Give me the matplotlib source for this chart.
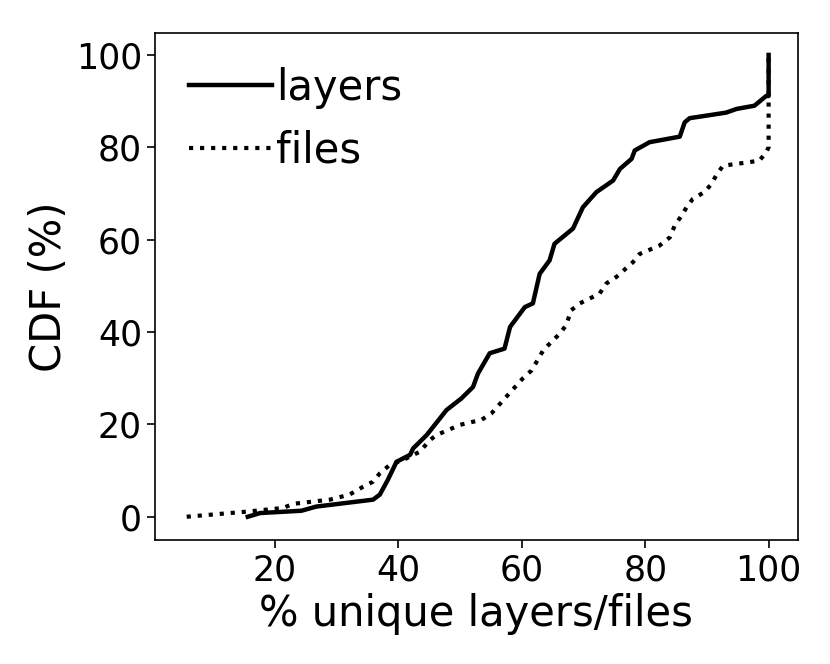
import matplotlib
matplotlib.use("Agg")
import matplotlib.pyplot as plt

layers_x = [15.6, 17.6, 24.3, 26.7, 35.9, 37.0, 38.3, 39.7, 41.9, 42.4, 44.6, 47.8, 50.2, 52.1,
            52.9, 54.8, 57.2, 58.1, 60.5, 61.8, 62.9, 64.5, 65.3, 68.3, 69.9, 72.1, 74.8, 75.9,
            77.8, 78.3, 80.7, 85.6, 86.4, 87.2, 93.1, 94.8, 97.7, 99.6, 100.0, 100.0]
layers_y = [0, 0.8, 1.3, 2.2, 3.7, 4.8, 8.0, 11.9, 13.4, 14.8, 17.7, 23.1, 25.6, 28.1,
            31.0, 35.4, 36.4, 41.1, 45.4, 46.2, 52.6, 55.5, 59.1, 62.4, 67.0, 70.3, 72.8, 75.3,
            77.5, 79.3, 81.1, 82.3, 85.4, 86.3, 87.5, 88.3, 89.0, 91.1, 91.1, 100.0]

files_x = [5.7, 15.4, 21.3, 23.0, 28.9, 32.1, 34.3, 35.9, 37.0, 38.6, 40.8, 43.5, 45.1, 46.2,
           50.0, 53.5, 55.1, 57.5, 60.2, 61.6, 63.5, 66.2, 67.2, 68.0, 69.4, 72.6, 73.7, 75.3,
           78.0, 79.1, 82.3, 84.0, 84.8, 85.9, 86.7, 87.7, 89.6, 90.7, 91.5, 92.6, 96.4, 98.5,
           99.6, 100.0, 100.0]
files_y = [0, 1.1, 1.9, 2.8, 3.7, 4.8, 6.5, 7.6, 9.4, 11.2, 12.3, 14.1, 16.6, 17.7,
           19.9, 21.0, 22.4, 26.0, 30.0, 31.7, 36.1, 39.7, 41.5, 44.7, 46.2, 48.3, 50.5, 51.9,
           55.1, 56.9, 58.7, 60.5, 63.1, 65.2, 67.0, 68.8, 70.3, 72.0, 73.9, 76.0, 76.7, 77.1,
           78.9, 80.0, 100.0]

x_ticks = [20, 40, 60, 80, 100]
y_ticks = [0, 20, 40, 60, 80, 100]

fig = plt.figure(figsize=(8.3, 6.64), dpi=100)
ax = fig.add_axes([0.187, 0.187, 0.774, 0.763])

hf, = ax.plot(files_x, files_y, color="black", linestyle=":", linewidth=3, label="files", zorder=2)
hl, = ax.plot(layers_x, layers_y, color="black", linestyle="-", linewidth=3.2, label="layers", zorder=3)

ax.set_xlim(0.6, 104.7)
ax.set_ylim(-5, 104.7)
ax.set_xticks(x_ticks)
ax.set_yticks(y_ticks)
ax.tick_params(labelsize=25, length=6, width=1.2)
for s in ax.spines.values():
    s.set_linewidth(1.2)
ax.set_xlabel("% unique layers/files", fontsize=30)
ax.set_ylabel("CDF (%)", fontsize=30)
ax.legend(handles=[hl, hf], loc="upper left", frameon=False, fontsize=30,
          handletextpad=0.1, labelspacing=0.5, borderaxespad=0.4)

fig.savefig("out.png", dpi=100)
